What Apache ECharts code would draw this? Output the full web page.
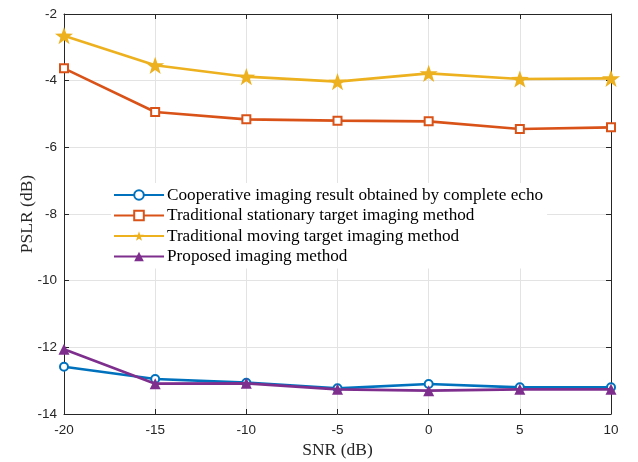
<!DOCTYPE html>
<html>
<head>
<meta charset="utf-8">
<script src="https://cdn.jsdelivr.net/npm/echarts@6/dist/echarts.min.js"></script>
<style>html,body{margin:0;padding:0;background:#fff}#c{width:638px;height:462px}</style>
</head>
<body>
<div id="c"></div>
<script>
const snr = [-20, -15, -10, -5, 0, 5, 10];
const cooperative = [-12.58, -12.95, -13.06, -13.23, -13.1, -13.2, -13.2];
const stationary = [-3.63, -4.94, -5.16, -5.2, -5.22, -5.45, -5.4];
const moving = [-2.65, -3.54, -3.88, -4.03, -3.78, -3.95, -3.93];
const proposed = [-12.06, -13.09, -13.08, -13.26, -13.3, -13.26, -13.26];
const seriesNames = [
  'Cooperative imaging result obtained by complete echo',
  'Traditional stationary target imaging method',
  'Traditional moving target imaging method',
  'Proposed imaging method'
];
const yTicks = [-14, -12, -10, -8, -6, -4, -2];
const xTicks = [-20, -15, -10, -5, 0, 5, 10];

const star = 'path://M0,-10 L2.35,-3.24 L9.51,-3.09 L3.8,1.24 L5.88,8.09 L0,4 L-5.88,8.09 L-3.8,1.24 L-9.51,-3.09 L-2.35,-3.24 Z';
const zip = v => snr.map((x, i) => [x, v[i]]);
const serif = 'Liberation Serif, Times New Roman, serif';
const tickFont = {fontFamily: 'Liberation Sans, Arial, sans-serif', fontSize: 13.5, color: '#262626'};
const boxLine = {show: true, onZero: false, lineStyle: {color: '#262626', width: 1}};
const tick = {show: true, inside: true, length: 5, lineStyle: {color: '#262626'}};

const chart = echarts.init(document.getElementById('c'));
chart.setOption({
  animation: false,
  backgroundColor: '#fff',
  grid: {left: 64, right: 27, top: 14, bottom: 48, containLabel: false, outerBoundsMode: 'none'},
  legend: {
    left: 111, top: 183, orient: 'vertical',
    itemWidth: 50, itemHeight: 12, itemGap: 0.5,
    backgroundColor: '#fff', padding: [2, 4, 2, 2],
    textStyle: {fontFamily: serif, fontSize: 17.2, lineHeight: 20, color: '#000', padding: [0, 0, 0, -2]},
    data: seriesNames
  },
  xAxis: [{
    type: 'value', min: -20, max: 10, interval: 5,
    name: 'SNR (dB)', nameLocation: 'middle', nameGap: 27,
    nameTextStyle: {fontFamily: serif, fontSize: 17.5, color: '#262626'},
    axisLine: boxLine, axisTick: tick,
    axisLabel: Object.assign({margin: 9, formatter: v => xTicks.includes(v) ? String(v) : ''}, tickFont),
    splitLine: {show: true, lineStyle: {color: '#e3e3e3', width: 1}}
  }, {
    type: 'value', min: -20, max: 10, interval: 5, position: 'top',
    axisLine: boxLine, axisTick: tick,
    axisLabel: {show: false}, splitLine: {show: false}
  }],
  yAxis: [{
    type: 'value', min: -14, max: -2, interval: 2,
    name: 'PSLR (dB)', nameLocation: 'middle', nameGap: 28, nameMoveOverlap: false,
    nameTextStyle: {fontFamily: serif, fontSize: 17.5, color: '#262626'},
    axisLine: boxLine, axisTick: tick,
    axisLabel: Object.assign({margin: 7, formatter: v => yTicks.includes(v) ? String(v) : ''}, tickFont),
    splitLine: {show: true, lineStyle: {color: '#e3e3e3', width: 1}}
  }, {
    type: 'value', min: -14, max: -2, interval: 2, position: 'right',
    axisLine: boxLine, axisTick: tick,
    axisLabel: {show: false}, splitLine: {show: false}
  }],
  series: [
    {name: seriesNames[0], type: 'line', data: zip(cooperative), symbol: 'emptyCircle', symbolSize: 8,
     lineStyle: {color: '#0072BD', width: 2.6}, itemStyle: {color: '#0072BD', borderWidth: 2}, z: 3},
    {name: seriesNames[1], type: 'line', data: zip(stationary), symbol: 'emptyRect', symbolSize: 8,
     lineStyle: {color: '#D95319', width: 2.6}, itemStyle: {color: '#D95319', borderWidth: 1.6}, z: 3},
    {name: seriesNames[2], type: 'line', data: zip(moving), symbol: star, symbolKeepAspect: true, symbolSize: 18,
     lineStyle: {color: '#EDB120', width: 2.6}, itemStyle: {color: '#EDB120'}, z: 3},
    {name: seriesNames[3], type: 'line', data: zip(proposed), symbol: 'triangle', symbolSize: 11,
     lineStyle: {color: '#7E2F8E', width: 2.6}, itemStyle: {color: '#7E2F8E'}, z: 4}
  ]
});
</script>
</body>
</html>
